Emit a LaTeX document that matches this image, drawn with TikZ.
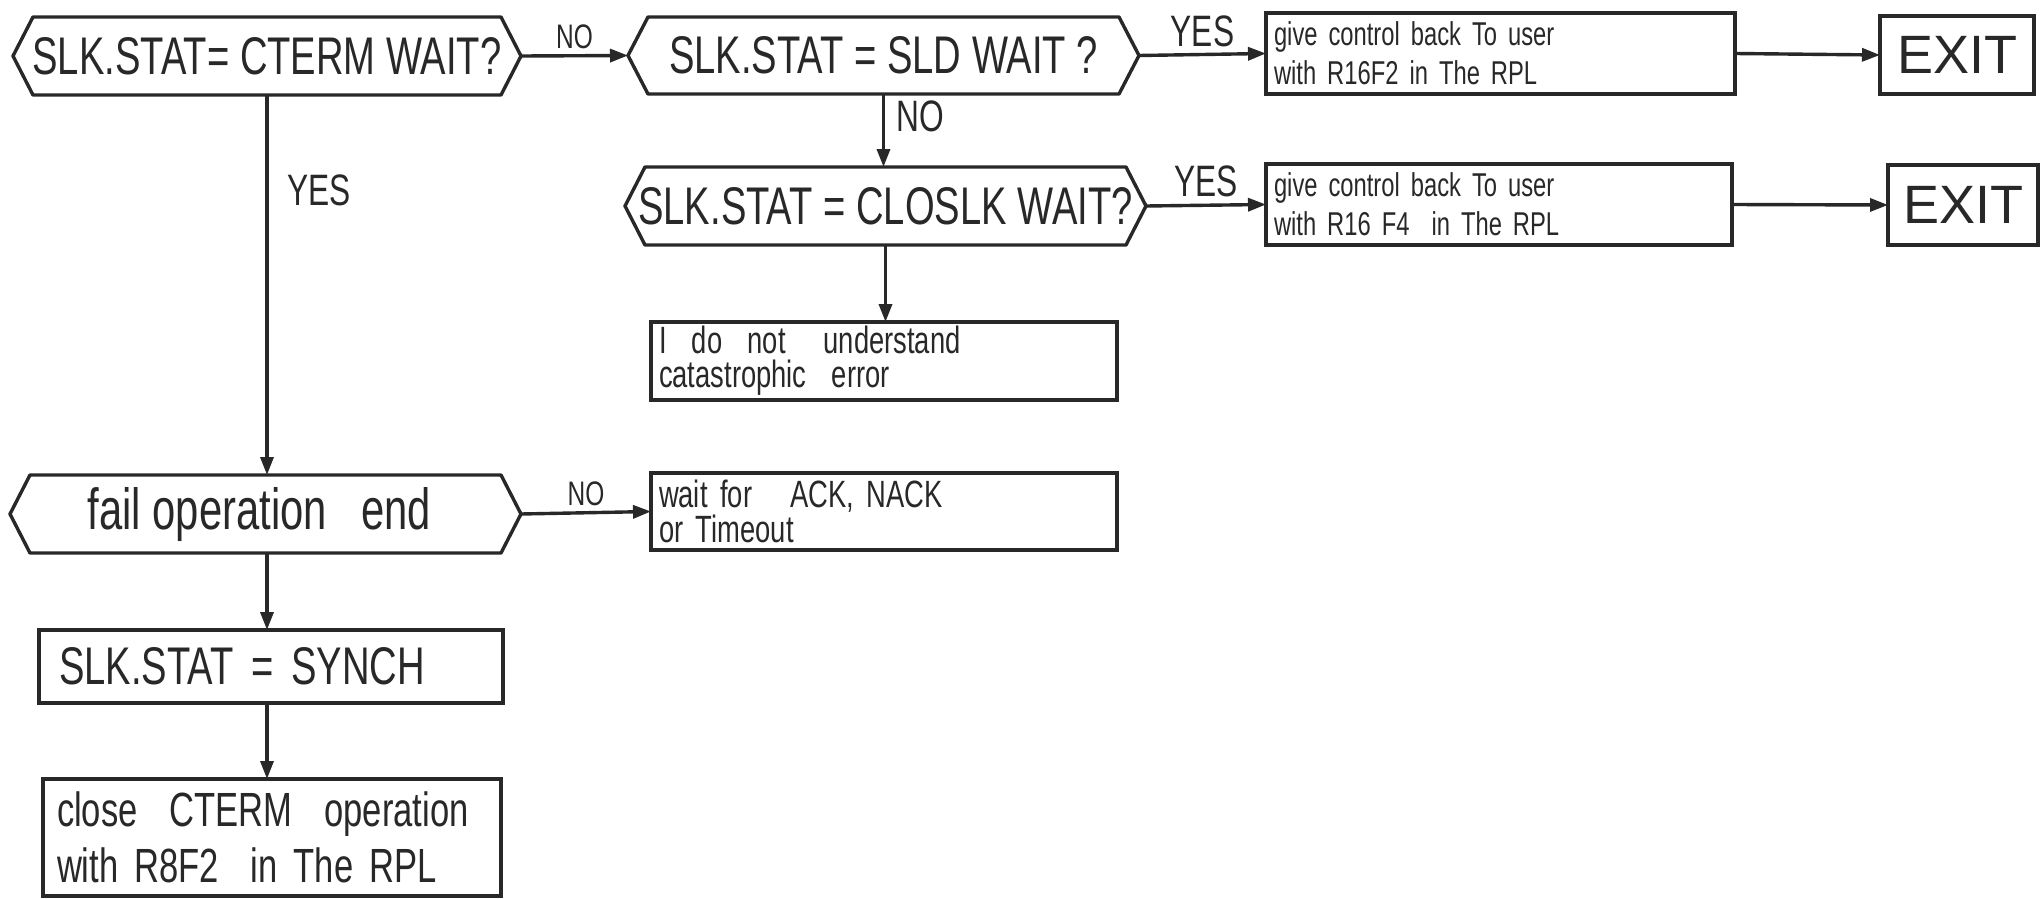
\documentclass[tikz,border=0pt]{standalone}
\usepackage{fontspec}
\setmainfont{Liberation Sans}[FakeStretch=0.72]
\newfontfamily\widefont{Liberation Sans}
\usetikzlibrary{arrows.meta}
\definecolor{ink}{RGB}{40,40,40}
\newcommand\hexa[1]{\draw[hexline] ([xshift=20pt]#1.north west) -- ([xshift=-20pt]#1.north east) -- (#1.east) -- ([xshift=-20pt]#1.south east) -- ([xshift=20pt]#1.south west) -- (#1.west) -- cycle;}
\begin{document}
\begin{tikzpicture}[x=1pt,y=-1pt,
  hexline/.style={draw=ink, line width=3.4pt, line join=round},
  box/.style={draw=ink, line width=3.4pt, rectangle, inner xsep=8pt, inner ysep=0pt, outer sep=0pt, align=left, text=ink},
  dec/.style={rectangle, inner sep=0pt, outer sep=0pt, align=center, text=ink, font=\fontsize{53}{58}\selectfont},
  arr/.style={draw=ink, line width=3.4pt, -{Triangle[length=18pt,width=13pt]}},
  lbl/.style={inner sep=1pt, text=ink, font=\fontsize{44}{48}\selectfont},
  slbl/.style={inner sep=1pt, text=ink, font=\fontsize{34}{38}\selectfont},
  exitbox/.style={draw=ink, line width=3.4pt, rectangle, inner sep=0pt, outer sep=0pt, text=ink, font=\widefont\fontsize{54}{60}\selectfont}]
\useasboundingbox[fill=white] (0,0) rectangle (2042,899);

% decisions
\node[dec, minimum width=508pt, minimum height=78pt] (d1) at (267,56) {SLK.STAT= CTERM WAIT?};
\node[dec, minimum width=511pt, minimum height=77pt] (d2) at (883.5,55.5) {SLK.STAT = SLD WAIT ?};
\node[dec, minimum width=521pt, minimum height=78pt] (d3) at (885.5,206) {SLK.STAT = CLOSLK WAIT?};
\node[dec, minimum width=511pt, minimum height=78pt, font=\fontsize{58}{62}\selectfont] (d4) at (265.5,514) {fail\ operation\ \ \ end\hspace{12pt}};
\hexa{d1}\hexa{d2}\hexa{d3}\hexa{d4}

% process boxes
\node[box, minimum width=469pt, minimum height=81pt, text width=453pt, font=\fontsize{33}{39}\selectfont] (p1) at (1500.5,53.5) {give control back To user\\with R16F2 in The RPL};
\node[box, minimum width=466pt, minimum height=81pt, text width=450pt, font=\fontsize{33}{39}\selectfont] (p2) at (1499,204.5) {give control back To user\\with R16 F4 \ in The RPL};
\node[exitbox, minimum width=154pt, minimum height=78pt] (e1) at (1957,55) {EXIT};
\node[exitbox, minimum width=150pt, minimum height=80pt] (e2) at (1963,205) {EXIT};
\node[box, minimum width=466pt, minimum height=78pt, text width=450pt, font=\fontsize{38}{34}\selectfont] (err) at (884,361) {I\ \ do\ \ not\ \ \ understand\\catastrophic\ \ error};
\node[box, minimum width=466pt, minimum height=77pt, text width=450pt, font=\fontsize{38}{35}\selectfont] (w) at (884,511.5) {wait for\ \ \ ACK, NACK\\or Timeout};
\node[box, minimum width=464pt, minimum height=73pt, inner xsep=20pt, text width=424pt, font=\fontsize{53}{58}\selectfont] (s) at (271,666.5) {SLK.STAT = SYNCH};
\node[box, minimum width=458pt, minimum height=117pt, inner xsep=14pt, text width=430pt, font=\fontsize{48}{56}\selectfont] (c) at (272,837.5) {close\ \ CTERM\ \ operation\\with R8F2\ \ in The RPL};

% connectors
\draw[arr] (d1.east) -- node[slbl, above=4pt] {NO} (d2.west);
\draw[arr] (d2.east) -- node[lbl, above=5pt] {YES} (p1.west);
\draw[arr] (p1.east) -- (e1.west);
\draw[arr] (d2.south) -- node[lbl, right=10pt, pos=0.3] {NO} (d2.south |- d3.north);
\draw[arr] (d3.east) -- node[lbl, above=6pt] {YES} (p2.west);
\draw[arr] (p2.east) -- (e2.west);
\draw[arr] (d3.south) -- (d3.south |- err.north);
\draw[arr] (d1.south) -- node[lbl, right=18pt, pos=0.25] {YES} (d1.south |- d4.north);
\draw[arr] (d4.east) -- node[slbl, above=4pt] {NO} (w.west);
\draw[arr] (d1.south |- d4.south) -- (d1.south |- s.north);
\draw[arr] (d1.south |- s.south) -- (d1.south |- c.north);
\end{tikzpicture}
\end{document}
